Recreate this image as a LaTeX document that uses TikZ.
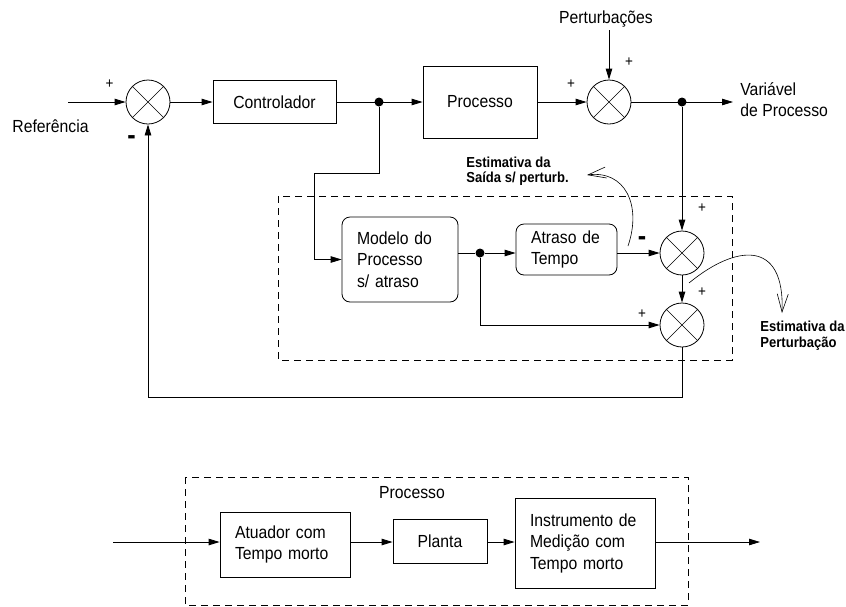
\documentclass[tikz,border=0pt]{standalone}
\usepackage{fontspec}
\setmainfont{Liberation Sans}[FakeStretch=0.9]
\usetikzlibrary{arrows.meta}
\begin{document}
\begin{tikzpicture}[x=1pt,y=-1pt, line width=0.8pt,
  >={Triangle[length=11pt,width=6.5pt]},
  every node/.style={font=\fontsize{17.5}{21.5}\selectfont},
  blk/.style={draw, inner sep=0pt},
  lblk/.style={draw, align=left, inner xsep=15pt, inner ysep=0pt},
  sumnode/.style={draw, circle, minimum size=44pt, inner sep=0pt,
    path picture={\draw[line width=0.6pt]
      (path picture bounding box.north west) -- (path picture bounding box.south east)
      (path picture bounding box.north east) -- (path picture bounding box.south west);}},
  dotnode/.style={circle, fill, minimum size=9pt, inner sep=0pt},
  sgn/.style={font=\fontsize{15}{15}\selectfont, inner sep=0pt},
  minus/.style={font=\bfseries\fontsize{28}{28}\selectfont, inner sep=0pt},
  est/.style={font=\bfseries\fontsize{14.5}{15.5}\selectfont, align=left, anchor=base west, inner sep=0pt},
  dashbox/.style={dash pattern=on 7pt off 5pt, line width=0.7pt},
  barb/.style={-{Straight Barb[length=18pt,width=11pt]}, line width=0.6pt}
]
\useasboundingbox (0,0) rectangle (846,606);

% ---------- upper diagram ----------
\node[sumnode] (s1) at (148,102) {};
\node[sumnode] (s2) at (609,102) {};
\node[sumnode] (s3) at (682,253) {};
\node[sumnode] (s4) at (682,325) {};

\node[blk, minimum width=123pt, minimum height=43pt] (ctrl) at (274.5,102) {Controlador};
\node[blk, minimum width=114pt, minimum height=72pt] (proc) at (480,102) {Processo};
\node[lblk, rounded corners=8pt, minimum width=116pt, minimum height=85pt, text width=86pt] (model) at (400,259.5) {Modelo do\\Processo\\s/ atraso};
\node[lblk, rounded corners=8pt, minimum width=101pt, minimum height=51pt, text width=71pt] (atraso) at (566.5,249.5) {Atraso de\\Tempo};

\node[dotnode] (d1) at (379,102) {};
\node[dotnode] (d2) at (682,102) {};
\node[dotnode] (d3) at (480,253) {};

\coordinate (in) at (68,102);
\coordinate (out) at (733,102);
\coordinate (pt) at (609,30);
\coordinate (k1) at (379,173);
\coordinate (k2) at (314,259.5);
\coordinate (fb) at (682,397);

\draw[->] (in) -- (s1);
\draw[->] (s1) -- (ctrl);
\draw[->] (ctrl) -- (proc);
\draw[->] (proc) -- (s2);
\draw[->] (s2) -- (out);
\draw[->] (pt) -- (s2);
\draw[->] (d2) -- (s3);
\draw[->] (s3) -- (s4);
\draw[->] (s4) -- (fb) -| (s1);
\draw[->] (d1) -- (k1) -| (k2) -- (model.west);
\draw (model.east |- d3) -- (d3);
\draw[->] (d3) -- (atraso.west |- d3);
\draw[->] (atraso.east |- s3) -- (s3);
\draw[->] (d3) |- (s4);

\draw[dashbox] (278,196) rectangle (732,360);

% curved estimation arrows
\coordinate (c1s) at (628,246);
\coordinate (c1e) at (587,175);
\draw[barb] (c1s) .. controls (642,205) and (625,170) .. (c1e);
\coordinate (c2s) at (689,283);
\coordinate (c2e) at (782,313);
\draw[barb] (c2s) .. controls (735,245) and (785,238) .. (c2e);

% texts
\node[anchor=base] (ref) at (50.5,132) {Referência};
\node[anchor=base] (pert) at (606,23) {Perturbações};
\node[anchor=base west, align=left, inner sep=0pt] (pv) at (740,116.5) {Variável\\de Processo};
\node[est] (lab1) at (466,182.5) {Estimativa da\\Saída s/ perturb.};
\node[est] (lab2) at (760,347) {Estimativa da\\Perturbação};

\node[sgn] (p1) at (109.5,84) {+};
\node[sgn] (p2) at (571,84) {+};
\node[sgn] (p3) at (629,62) {+};
\node[sgn] (p4) at (702,208) {+};
\node[sgn] (p5) at (702,292) {+};
\node[sgn] (p6) at (642,314) {+};
\node[minus] (m1) at (131.5,140.5) {-};
\node[minus] (m2) at (642,241.5) {-};

% ---------- lower diagram ----------
\draw[dashbox] (185,477) rectangle (688,605);
\node (plabel) at (412,493) {Processo};
\node[lblk, minimum width=130pt, minimum height=65pt, text width=100pt] (atu) at (285,544.5) {Atuador com\\Tempo morto};
\node[blk, minimum width=94pt, minimum height=44pt] (planta) at (440,541) {Planta};
\node[lblk, minimum width=140pt, minimum height=90pt, text width=110pt] (instr) at (585,543) {Instrumento de\\Medição com\\Tempo morto};

\coordinate (in2) at (113,542);
\coordinate (out2) at (760,542);
\draw[->] (in2) -- (atu.west |- in2);
\draw[->] (atu.east |- in2) -- (planta.west |- in2);
\draw[->] (planta.east |- in2) -- (instr.west |- in2);
\draw[->] (instr.east |- in2) -- (out2);
\end{tikzpicture}
\end{document}
